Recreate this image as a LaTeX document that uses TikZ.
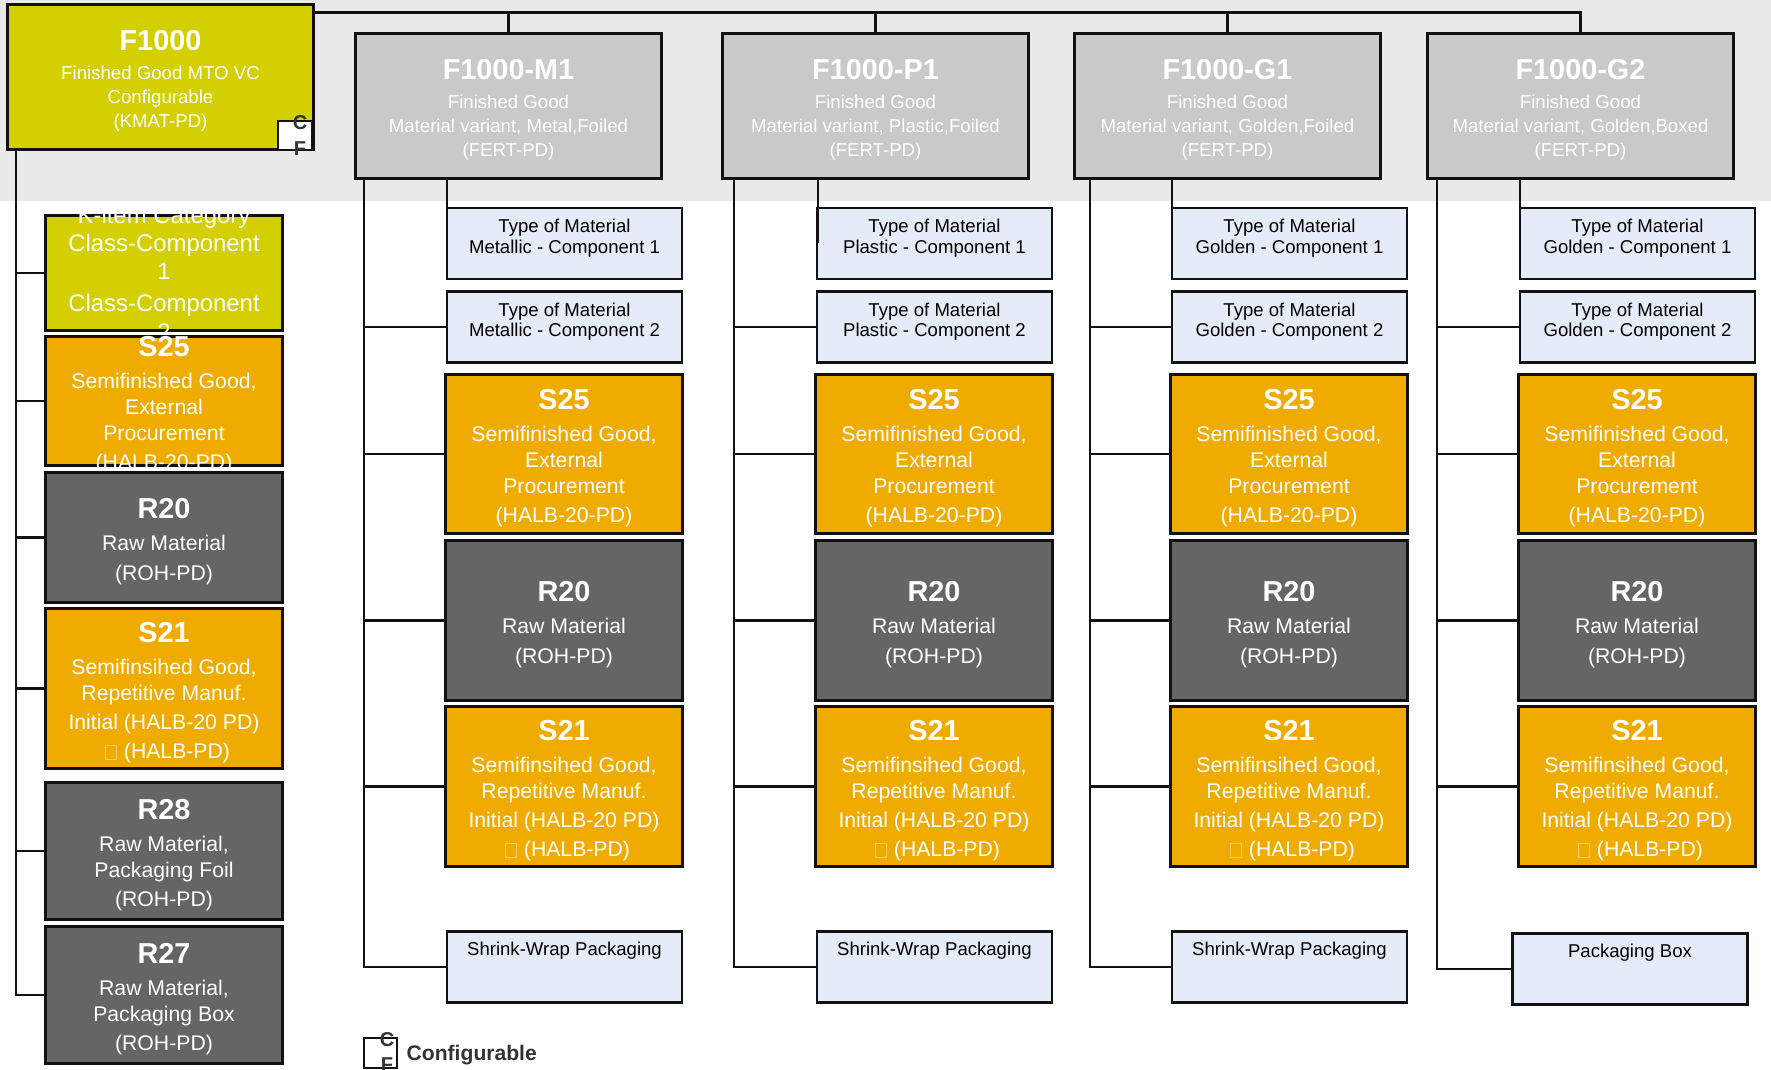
\documentclass[tikz,border=0pt]{standalone}
\usepackage{fontspec}
\setmainfont{Liberation Sans}
\usepackage{tikz}

\definecolor{bandgrey}{HTML}{E9E9E9}
\definecolor{kmatlime}{HTML}{D3CF00}
\definecolor{fertgrey}{HTML}{C9C9C9}
\definecolor{halborange}{HTML}{F0AB00}
\definecolor{rohgrey}{HTML}{656565}
\definecolor{typeblue}{HTML}{E6ECF7}
\definecolor{tofuline}{HTML}{F8CE6A}
\definecolor{inkdark}{HTML}{111111}
\definecolor{legendtext}{HTML}{333333}

\newcommand{\headfont}{\rule{0pt}{8.0pt}\fontsize{8.2}{10}\selectfont\bfseries}
\newcommand{\tofumark}{\hspace*{2pt}{\color{tofuline}\fboxsep=0pt\fboxrule=0.2pt\fbox{\rule{0pt}{3.7pt}\hspace{2.9pt}}}\hspace{0.4pt}}

\begin{document}
\begin{tikzpicture}[
    x=0.01cm, y=-0.01cm,
    block/.style={rectangle, draw=inkdark, line width=0.85pt, text=white, align=center,
        inner sep=0pt, outer sep=0pt, font=\fontsize{6.03}{7.3}\selectfont},
    fert/.style={block, fill=fertgrey, minimum width=3.05cm, minimum height=1.44cm,
        text=white, font=\fontsize{5.3}{6.8}\selectfont},
    kmat/.style={fert, fill=kmatlime},
    halb/.style={block, fill=halborange, minimum width=2.36cm, minimum height=1.58cm},
    roh/.style={block, fill=rohgrey, minimum width=2.36cm, minimum height=1.58cm},
    typebox/.style={block, fill=typeblue, text=black, line width=0.65pt, minimum width=2.35cm,
        minimum height=0.71cm, font=\fontsize{5.28}{5.8}\selectfont},
    cfbox/.style={rectangle, draw=inkdark, line width=0.8pt, fill=white, inner sep=0pt,
        outer sep=0pt, minimum width=0.33cm, minimum height=0.3cm},
    cfmark/.style={text=legendtext, align=center, inner sep=0pt,
        font=\fontsize{5.7}{7.3}\selectfont\bfseries},
    link/.style={draw=inkdark, line width=0.85pt}
]
    \useasboundingbox (0,0) rectangle (1771,1070);
    \fill[bandgrey] (0,0) rectangle (1771,201);

    % finished goods
    \node[kmat] (f1000) at (160.5,77) {{\headfont F1000}\\[1.5pt]Finished Good MTO VC\\Configurable\\(KMAT-PD)};
    \node[fert] (m1) at (508.5,106) {{\headfont F1000-M1}\\[1.5pt]Finished Good\\Material variant, Metal,Foiled\\(FERT-PD)};
    \node[fert] (p1) at (875.5,106) {{\headfont F1000-P1}\\[1.5pt]Finished Good\\Material variant, Plastic,Foiled\\(FERT-PD)};
    \node[fert] (g1) at (1227.5,106) {{\headfont F1000-G1}\\[1.5pt]Finished Good\\Material variant, Golden,Foiled\\(FERT-PD)};
    \node[fert] (g2) at (1580.5,106) {{\headfont F1000-G2}\\[1.5pt]Finished Good\\Material variant, Golden,Boxed\\(FERT-PD)};
    \node[cfbox, minimum width=0.34cm, minimum height=0.29cm] (cf) at (295,135.5) {};
    \node[cfmark] (cftext) at (300,135.5) {C\\F};

    % configurable column
    \node[block, fill=kmatlime, minimum width=2.36cm, minimum height=1.14cm] (class) at (164,273) {};
    \begin{scope}
        \clip (40,213) rectangle (290,337);
        \node[text=white, align=center, inner sep=0pt, font=\fontsize{6.8}{8}\selectfont] (classtext) at (164,273)
            {K-item Category\\Class-Component\\1\\[1.2pt]Class-Component\\2};
    \end{scope}
    \node[halb, minimum height=1.28cm] (ls25) at (164,401) {};
    \begin{scope}
        \clip (40,320) rectangle (290,467);
        \node[text=white, align=center, inner sep=0pt, font=\fontsize{6.03}{7.3}\selectfont] (ls25text) at (164,401)
            {{\headfont S25}\\[1.9pt]Semifinished Good,\\External\\Procurement\\[1pt](HALB-20-PD)};
    \end{scope}
    \node[roh, minimum height=1.29cm] (lr20) at (164,537.5) {{\headfont R20}\\[1.9pt]Raw Material\\[1pt](ROH-PD)};
    \node[halb, minimum height=1.59cm] (ls21) at (164,688.5) {{\headfont S21}\\[1.9pt]Semifinsihed Good,\\Repetitive Manuf.\\[1pt]Initial (HALB-20 PD)\\[1pt]\tofumark{} (HALB-PD)};
    \node[roh, minimum height=1.36cm] (lr28) at (164,851) {{\headfont R28}\\[1.9pt]Raw Material,\\Packaging Foil\\[1pt](ROH-PD)};
    \node[roh, minimum height=1.36cm] (lr27) at (164,995) {{\headfont R27}\\[1.9pt]Raw Material,\\Packaging Box\\[1pt](ROH-PD)};

    % metal column
    \node[typebox] (m1c1) at (564.5,243.5) {Type of Material\\Metallic - Component 1\\[-1.6pt]\mbox{}};
    \node[typebox] (m1c2) at (564.5,327) {Type of Material\\Metallic - Component 2\\[-1.6pt]\mbox{}};
    \node[halb] (m1s25) at (564,454) {{\headfont S25}\\[1.9pt]Semifinished Good,\\External\\Procurement\\[1pt](HALB-20-PD)};
    \node[roh, minimum height=1.59cm] (m1r20) at (564,620.5) {{\headfont R20}\\[1.9pt]Raw Material\\[1pt](ROH-PD)};
    \node[halb, minimum height=1.59cm] (m1s21) at (564,786.5) {{\headfont S21}\\[1.9pt]Semifinsihed Good,\\Repetitive Manuf.\\[1pt]Initial (HALB-20 PD)\\[1pt]\tofumark{} (HALB-PD)};
    \node[typebox] (m1wrap) at (564.5,967) {Shrink-Wrap Packaging\\[-1pt] \\ \mbox{}};

    % plastic column
    \node[typebox] (p1c1) at (934.5,243.5) {Type of Material\\Plastic - Component 1\\[-1.6pt]\mbox{}};
    \node[typebox] (p1c2) at (934.5,327) {Type of Material\\Plastic - Component 2\\[-1.6pt]\mbox{}};
    \node[halb] (p1s25) at (934,454) {{\headfont S25}\\[1.9pt]Semifinished Good,\\External\\Procurement\\[1pt](HALB-20-PD)};
    \node[roh, minimum height=1.59cm] (p1r20) at (934,620.5) {{\headfont R20}\\[1.9pt]Raw Material\\[1pt](ROH-PD)};
    \node[halb, minimum height=1.59cm] (p1s21) at (934,786.5) {{\headfont S21}\\[1.9pt]Semifinsihed Good,\\Repetitive Manuf.\\[1pt]Initial (HALB-20 PD)\\[1pt]\tofumark{} (HALB-PD)};
    \node[typebox] (p1wrap) at (934.5,967) {Shrink-Wrap Packaging\\[-1pt] \\ \mbox{}};

    % golden foiled column
    \node[typebox] (g1c1) at (1289.5,243.5) {Type of Material\\Golden - Component 1\\[-1.6pt]\mbox{}};
    \node[typebox] (g1c2) at (1289.5,327) {Type of Material\\Golden - Component 2\\[-1.6pt]\mbox{}};
    \node[halb] (g1s25) at (1289,454) {{\headfont S25}\\[1.9pt]Semifinished Good,\\External\\Procurement\\[1pt](HALB-20-PD)};
    \node[roh, minimum height=1.59cm] (g1r20) at (1289,620.5) {{\headfont R20}\\[1.9pt]Raw Material\\[1pt](ROH-PD)};
    \node[halb, minimum height=1.59cm] (g1s21) at (1289,786.5) {{\headfont S21}\\[1.9pt]Semifinsihed Good,\\Repetitive Manuf.\\[1pt]Initial (HALB-20 PD)\\[1pt]\tofumark{} (HALB-PD)};
    \node[typebox] (g1wrap) at (1289.5,967) {Shrink-Wrap Packaging\\[-1pt] \\ \mbox{}};

    % golden boxed column
    \node[typebox] (g2c1) at (1637.5,243.5) {Type of Material\\Golden - Component 1\\[-1.6pt]\mbox{}};
    \node[typebox] (g2c2) at (1637.5,327) {Type of Material\\Golden - Component 2\\[-1.6pt]\mbox{}};
    \node[halb] (g2s25) at (1637,454) {{\headfont S25}\\[1.9pt]Semifinished Good,\\External\\Procurement\\[1pt](HALB-20-PD)};
    \node[roh, minimum height=1.59cm] (g2r20) at (1637,620.5) {{\headfont R20}\\[1.9pt]Raw Material\\[1pt](ROH-PD)};
    \node[halb, minimum height=1.59cm] (g2s21) at (1637,786.5) {{\headfont S21}\\[1.9pt]Semifinsihed Good,\\Repetitive Manuf.\\[1pt]Initial (HALB-20 PD)\\[1pt]\tofumark{} (HALB-PD)};
    \node[typebox] (g2box) at (1630,969) {Packaging Box\\[-1pt] \\ \mbox{}};

    % legend
    \node[cfbox] (legendbox) at (380.5,1053) {};
    \node[cfmark] (legendmark) at (387,1052) {C\\F};
    \node[text=legendtext, anchor=west, inner sep=0pt, font=\fontsize{6}{7}\selectfont\bfseries] (legendtext) at (406,1055) {Configurable};

    % connectors
    \coordinate (topout) at (313,12.5);
    \coordinate (f1000trunk) at (16,150);
    \coordinate (m1trunk) at (364,178);
    \coordinate (m1stub) at (447,178);
    \coordinate (p1trunk) at (734,178);
    \coordinate (p1stub) at (818,178);
    \coordinate (g1trunk) at (1090,178);
    \coordinate (g1stub) at (1172,178);
    \coordinate (g2trunk) at (1437,178);
    \coordinate (g2stub) at (1520,178);

    \draw[link] (topout) -| (g2.north);
    \draw[link] (topout -| m1.north) -- (m1.north);
    \draw[link] (topout -| p1.north) -- (p1.north);
    \draw[link] (topout -| g1.north) -- (g1.north);

    \draw[link] (f1000trunk) |- (lr27.west);
    \draw[link] (f1000trunk |- class.west) -- (class.west);
    \draw[link] (f1000trunk |- ls25.west) -- (ls25.west);
    \draw[link] (f1000trunk |- lr20.west) -- (lr20.west);
    \draw[link] (f1000trunk |- ls21.west) -- (ls21.west);
    \draw[link] (f1000trunk |- lr28.west) -- (lr28.west);

    \draw[link] (m1stub) -- (m1stub |- m1c1.west);
    \draw[link] (m1trunk) |- (m1wrap.west);
    \draw[link] (m1trunk |- m1c2.west) -- (m1c2.west);
    \draw[link] (m1trunk |- m1s25.west) -- (m1s25.west);
    \draw[link] (m1trunk |- m1r20.west) -- (m1r20.west);
    \draw[link] (m1trunk |- m1s21.west) -- (m1s21.west);

    \draw[link] (p1stub) -- (p1stub |- p1c1.west);
    \draw[link] (p1trunk) |- (p1wrap.west);
    \draw[link] (p1trunk |- p1c2.west) -- (p1c2.west);
    \draw[link] (p1trunk |- p1s25.west) -- (p1s25.west);
    \draw[link] (p1trunk |- p1r20.west) -- (p1r20.west);
    \draw[link] (p1trunk |- p1s21.west) -- (p1s21.west);

    \draw[link] (g1stub) -- (g1stub |- g1c1.west);
    \draw[link] (g1trunk) |- (g1wrap.west);
    \draw[link] (g1trunk |- g1c2.west) -- (g1c2.west);
    \draw[link] (g1trunk |- g1s25.west) -- (g1s25.west);
    \draw[link] (g1trunk |- g1r20.west) -- (g1r20.west);
    \draw[link] (g1trunk |- g1s21.west) -- (g1s21.west);

    \draw[link] (g2stub) -- (g2stub |- g2c1.west);
    \draw[link] (g2trunk) |- (g2box.west);
    \draw[link] (g2trunk |- g2c2.west) -- (g2c2.west);
    \draw[link] (g2trunk |- g2s25.west) -- (g2s25.west);
    \draw[link] (g2trunk |- g2r20.west) -- (g2r20.west);
    \draw[link] (g2trunk |- g2s21.west) -- (g2s21.west);
\end{tikzpicture}
\end{document}
